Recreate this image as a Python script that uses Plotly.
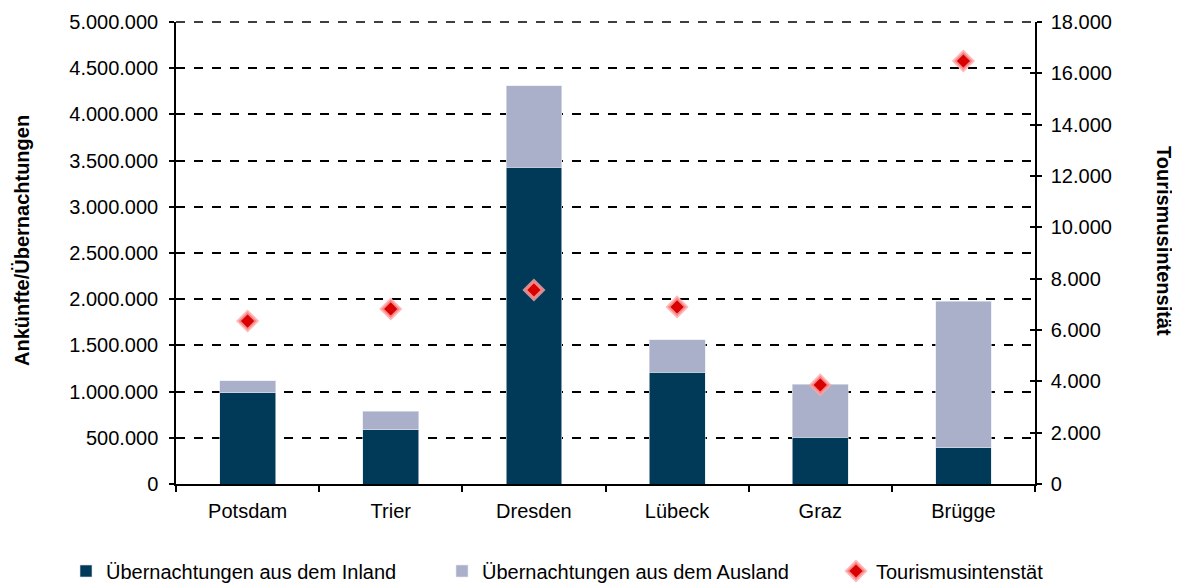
import plotly.graph_objects as go

# Data
staedte = ["Potsdam", "Trier", "Dresden", "Lübeck", "Graz", "Brügge"]
inland = [990000, 585000, 3430000, 1210000, 505000, 390000]
ausland = [125000, 205000, 880000, 350000, 575000, 1590000]
intensitaet = [6350, 6820, 7560, 6900, 3860, 16480]

left_ticks = list(range(0, 5000001, 500000))
right_ticks = list(range(0, 18001, 2000))

font_family = "Liberation Sans, Arial, sans-serif"
W, H = 1180, 584
# the page body adds an 8px offset, so everything is placed 8px up/left
L, R, T, B = 168, 153, 14, 108
pw = W - L - R

fig = go.Figure()

fig.add_trace(go.Bar(
    x=staedte, y=inland, name="Übernachtungen aus dem Inland",
    marker=dict(color="#013a59", line=dict(color="#d9e1ea", width=0.6)),
))
fig.add_trace(go.Bar(
    x=staedte, y=ausland, name="Übernachtungen aus dem Ausland",
    marker=dict(color="#aab0c9", line=dict(color="#e6e8f0", width=0.6)),
))
fig.add_trace(go.Scatter(
    x=staedte, y=intensitaet, name="Tourismusintenstät", yaxis="y2",
    mode="markers", legend="legend2",
    marker=dict(symbol="diamond", size=14, color="#d80000",
                line=dict(color="rgba(255,165,165,0.8)", width=3.5)),
))
# empty traces so the extra tick-only axes are drawn (ticks crossing the axis line)
fig.add_trace(go.Scatter(x=[], y=[], yaxis="y3", showlegend=False, hoverinfo="skip"))
fig.add_trace(go.Scatter(x=[], y=[], yaxis="y4", showlegend=False, hoverinfo="skip"))

top = max(left_ticks)
top2 = max(right_ticks)
tick_style = dict(ticks="outside", ticklen=5, tickcolor="black", tickwidth=1.5)

fig.update_layout(
    width=W, height=H,
    margin=dict(l=L, r=R, t=T, b=B, autoexpand=False),
    paper_bgcolor="white", plot_bgcolor="white",
    barmode="stack", bargap=0.61,
    separators=",.",
    font=dict(family=font_family, size=20, color="black"),
    showlegend=True,
    legend=dict(
        orientation="h", x=58 / W, xanchor="left", y=1 - 563 / H, yanchor="middle",
        xref="container", yref="container",
        entrywidth=331, entrywidthmode="pixels", itemwidth=30,
        font=dict(size=20), traceorder="normal",
    ),
    legend2=dict(
        orientation="h", x=828 / W, xanchor="left", y=1 - 563 / H, yanchor="middle",
        xref="container", yref="container", itemwidth=30,
        font=dict(size=20),
    ),
    xaxis=dict(
        showline=True, linecolor="black", linewidth=1.5,
        ticks="outside", ticklen=6, tickcolor="black", tickwidth=1.5,
        tickson="boundaries", showgrid=False, ticklabelstandoff=8,
        tickfont=dict(size=20), automargin=False,
    ),
    yaxis=dict(
        range=[0, top], tickvals=left_ticks, tickformat=",d",
        showline=True, linecolor="black", linewidth=1.5, **tick_style,
        showgrid=True, gridcolor="black", gridwidth=1.5, griddash="dash",
        zeroline=False, tickfont=dict(size=20), automargin=False,
        ticklabelstandoff=7,
    ),
    yaxis2=dict(
        range=[0, top2], tickvals=right_ticks, tickformat=",d",
        overlaying="y", side="right",
        showline=True, linecolor="black", linewidth=1.5, **tick_style,
        showgrid=False, zeroline=False, tickfont=dict(size=20), automargin=False,
        ticklabelstandoff=5,
    ),
    yaxis3=dict(
        range=[0, top], tickvals=left_ticks, overlaying="y", side="left",
        ticks="inside", ticklen=5, tickcolor="black", tickwidth=1.5,
        showticklabels=False, showgrid=False, zeroline=False, showline=False,
    ),
    yaxis4=dict(
        range=[0, top2], tickvals=right_ticks, overlaying="y", side="right",
        ticks="inside", ticklen=5, tickcolor="black", tickwidth=1.5,
        showticklabels=False, showgrid=False, zeroline=False, showline=False,
    ),
    # top grid line (plotly drops grid lines lying on the plot edge)
    shapes=[dict(type="line", xref="paper", x0=0, x1=1, yref="paper", y0=1, y1=1,
                 line=dict(color="black", width=1.5, dash="dash"), layer="above")],
    annotations=[
        dict(text="<b>Ankünfte/Übernachtungen</b>", textangle=-90,
             x=(14 - L) / pw, xref="paper", y=0.526, yref="paper",
             xanchor="center", yanchor="middle", showarrow=False,
             font=dict(size=20)),
        dict(text="<b>Tourismusintensität</b>", textangle=90,
             x=(1156 - L) / pw, xref="paper", y=0.526, yref="paper",
             xanchor="center", yanchor="middle", showarrow=False,
             font=dict(size=20)),
    ],
)

fig.write_html("out.html")
